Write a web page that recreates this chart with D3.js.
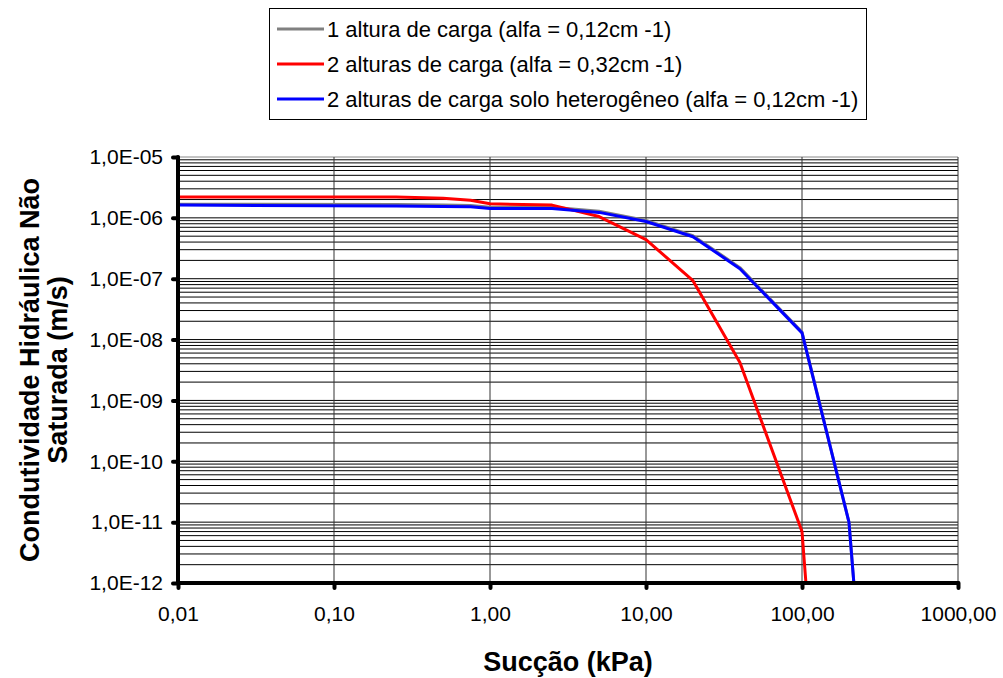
<!DOCTYPE html>
<meta charset="utf-8">
<style>
body { margin: 0; background: #fff; }
text { font-family: "Liberation Sans", Arial, sans-serif; }
</style>
<body>
<script src="https://cdnjs.cloudflare.com/ajax/libs/d3/7.8.5/d3.min.js"></script>
<script>
var width = 1003
var height = 678

// data
var seriesNames = [
    '1 altura de carga (alfa = 0,12cm -1)',
    '2 alturas de carga (alfa = 0,32cm -1)',
    '2 alturas de carga solo heterogêneo (alfa = 0,12cm -1)'
]
var seriesColors = ['#808080', '#ff0000', '#0000ff']

var grayX = [0.01, 0.25, 0.5, 0.75, 1, 2.5, 5, 10, 20, 40, 100, 200, 215]
var grayY = [1.68e-6, 1.65e-6, 1.62e-6, 1.6e-6, 1.5e-6, 1.5e-6, 1.28e-6, 9.1e-7, 5.1e-7, 1.52e-7, 1.33e-8, 1e-11, 1e-12]

var redX = [0.01, 0.25, 0.5, 0.75, 1, 2.5, 5, 10, 20, 40, 100, 106]
var redY = [2.2e-6, 2.2e-6, 2.1e-6, 1.94e-6, 1.7e-6, 1.62e-6, 1.05e-6, 4.4e-7, 9.3e-8, 4.2e-9, 7e-12, 1e-12]

var blueX = [0.01, 0.25, 0.5, 0.75, 1, 2.5, 5, 10, 20, 40, 100, 200, 215]
var blueY = [1.62e-6, 1.57e-6, 1.54e-6, 1.52e-6, 1.43e-6, 1.43e-6, 1.23e-6, 8.7e-7, 4.9e-7, 1.46e-7, 1.29e-8, 1e-11, 1e-12]

var xTicks = [0.01, 0.1, 1, 10, 100, 1000]
var yTicks = [1e-12, 1e-11, 1e-10, 1e-9, 1e-8, 1e-7, 1e-6, 1e-5]

var x = d3.scaleLog().domain([0.01, 1000]).range([178, 958])
var y = d3.scaleLog().domain([1e-12, 1e-5]).range([583, 157])

var svg = d3.select('body')
    .append('svg')
    .attr('width', width)
    .attr('height', height)

// minor horizontal grid at every mantissa
var yGrid = []
yTicks.forEach(function (t, i) {
    if (i === yTicks.length - 1) { yGrid.push(t); return }
    for (var m = 1; m < 10; m++) { yGrid.push(t * m) }
})

svg.append('g')
    .selectAll('line')
    .data(yGrid)
    .enter().append('line')
    .attr('x1', x(0.01))
    .attr('x2', x(1000))
    .attr('y1', function (d) { return y(d) })
    .attr('y2', function (d) { return y(d) })
    .style('stroke', function (d, i) { return i === yGrid.length - 1 ? '#888' : '#000' })
    .style('stroke-width', 1)

svg.append('g')
    .selectAll('line')
    .data(xTicks.slice(1))
    .enter().append('line')
    .attr('x1', function (d) { return x(d) })
    .attr('x2', function (d) { return x(d) })
    .attr('y1', y(1e-5))
    .attr('y2', y(1e-12))
    .style('stroke', '#333')
    .style('stroke-width', 1)

// curves
var line = d3.line()
    .x(function (d) { return x(d[0]) })
    .y(function (d) { return y(d[1]) })

var series = [
    d3.zip(grayX, grayY),
    d3.zip(redX, redY),
    d3.zip(blueX, blueY)
]

svg.append('g')
    .selectAll('path')
    .data(series)
    .enter().append('path')
    .attr('d', line)
    .style('fill', 'none')
    .style('stroke', function (d, i) { return seriesColors[i] })
    .style('stroke-width', 3)
    .style('stroke-linejoin', 'round')

// axes
var xAxis = d3.axisBottom(x)
    .tickValues(xTicks)
    .tickSize(5)
    .tickPadding(18)
    .tickFormat(function (d) { return d.toFixed(2).replace('.', ',') })

var yAxis = d3.axisLeft(y)
    .tickValues(yTicks)
    .tickSize(5)
    .tickPadding(10)
    .tickFormat(function (d) {
        var e = Math.round(-Math.log10(d))
        return '1,0E-' + (e < 10 ? '0' + e : e)
    })

var gx = svg.append('g')
    .attr('transform', 'translate(0,' + y(1e-12) + ')')
    .call(xAxis)

var gy = svg.append('g')
    .attr('transform', 'translate(' + x(0.01) + ',0)')
    .call(yAxis)

;[gx, gy].forEach(function (g) {
    g.select('.domain')
        .style('stroke', '#000')
        .style('stroke-width', 4)
        .style('stroke-linecap', 'round')
    g.selectAll('.tick line')
        .style('stroke', '#000')
        .style('stroke-width', 4)
        .style('stroke-linecap', 'round')
    g.selectAll('.tick text')
        .style('font-family', '"Liberation Sans", Arial, sans-serif')
        .style('font-size', '21px')
        .style('fill', '#000')
})

gx.select('.domain').attr('d', 'M' + x(0.01) + ',0H' + x(1000))
gy.select('.domain').attr('d', 'M0,' + y(1e-5) + 'V' + y(1e-12))

// axis titles
svg.append('text')
    .attr('x', 568)
    .attr('y', 671)
    .attr('text-anchor', 'middle')
    .style('font-size', '27px')
    .style('font-weight', 'bold')
    .text('Sucção (kPa)')

var yTitle = svg.append('text')
    .attr('transform', 'translate(44,370) rotate(-90)')
    .attr('text-anchor', 'middle')
    .style('font-size', '27px')
    .style('font-weight', 'bold')

yTitle.append('tspan')
    .attr('x', 0)
    .attr('dy', '-0.2em')
    .text('Condutividade Hidráulica Não')

yTitle.append('tspan')
    .attr('x', 0)
    .attr('dy', '1.05em')
    .text('Saturada (m/s)')

// legend
var legend = svg.append('g')

legend.append('rect')
    .attr('x', 269.5)
    .attr('y', 8.5)
    .attr('width', 597)
    .attr('height', 111)
    .style('fill', '#fff')
    .style('stroke', '#000')
    .style('stroke-width', 1)

var items = legend.selectAll('.item')
    .data(seriesNames)
    .enter().append('g')
    .attr('class', 'item')
    .attr('transform', function (d, i) { return 'translate(277,' + (29 + i * 35) + ')' })

items.append('line')
    .attr('x1', 0)
    .attr('x2', 47)
    .style('stroke', function (d, i) { return seriesColors[i] })
    .style('stroke-width', 3)

items.append('text')
    .attr('x', 50)
    .attr('dy', '0.35em')
    .style('font-size', '22px')
    .text(function (d) { return d })
</script>
</body>
